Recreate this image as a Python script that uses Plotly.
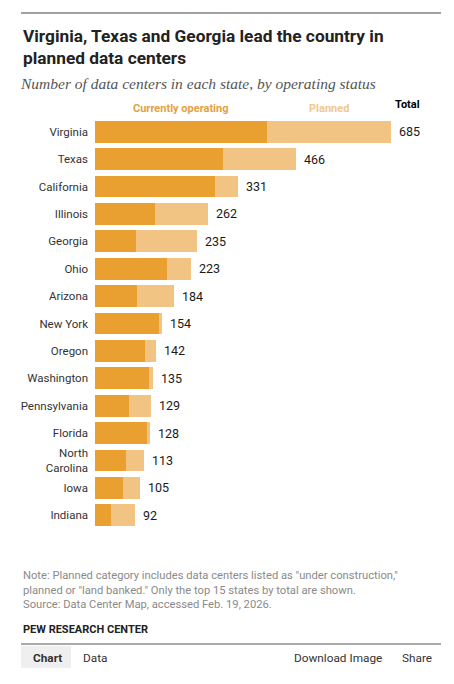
import plotly.graph_objects as go

# data
states = ["Virginia", "Texas", "California", "Illinois", "Georgia", "Ohio", "Arizona",
          "New York", "Oregon", "Washington", "Pennsylvania", "Florida",
          "North<br>Carolina", "Iowa", "Indiana"]
operating = [398, 296, 278, 139, 95, 167, 97, 148, 116, 125, 79, 120, 72, 65, 37]
planned = [287, 170, 53, 123, 140, 56, 87, 6, 26, 10, 50, 8, 41, 40, 55]
totals = [685, 466, 331, 262, 235, 223, 184, 154, 142, 135, 129, 128, 113, 105, 92]

OPER_COLOR = "#EA9F31"
PLAN_COLOR = "#F1C483"
FONT = "Roboto"

# the page puts an 8px body margin around the figure, so work in page pixels
# and shift everything back by that amount
OFF = 8
W, H = 454 - OFF, 684 - OFF
L, R, T, B = 95 - OFF, 441 - OFF, 118 - OFF, 529 - OFF  # plot area


def px(x):
    return (x - OFF - L) / (R - L)


def py(y):
    return (B - (y - OFF)) / (B - T)


fig = go.Figure()
fig.add_trace(go.Bar(y=states, x=operating, orientation="h", name="Currently operating",
                     marker=dict(color=OPER_COLOR, line=dict(width=0)), width=0.8,
                     hoverinfo="x+y"))
fig.add_trace(go.Bar(y=states, x=planned, orientation="h", name="Planned",
                     marker=dict(color=PLAN_COLOR, line=dict(width=0)), width=0.8,
                     hoverinfo="x+y"))

annotations = []
for s, t in zip(states, totals):
    annotations.append(dict(x=t, y=s, xref="x", yref="y", text=str(t), showarrow=False,
                            xanchor="left", xshift=6, font=dict(family=FONT, size=12.5, color="#1a1a1a")))

# column headers
annotations.append(dict(x=operating[0] / 2, y=py(108), xref="x", yref="paper", text="<b>Currently operating</b>",
                        showarrow=False, xanchor="center", yanchor="middle",
                        font=dict(family=FONT, size=11, color="#E3A143")))
annotations.append(dict(x=operating[0] + planned[0] / 2, y=py(108), xref="x", yref="paper", text="<b>Planned</b>",
                        showarrow=False, xanchor="center", yanchor="middle",
                        font=dict(family=FONT, size=11, color="#F0C88E")))
annotations.append(dict(x=px(407), y=py(105), xref="paper", yref="paper", text="<b>Total</b>",
                        showarrow=False, xanchor="center", yanchor="middle",
                        font=dict(family=FONT, size=11, color="#000")))

# title and subtitle
annotations.append(dict(x=px(21), y=py(24), xref="paper", yref="paper", showarrow=False,
                        xanchor="left", yanchor="top", align="left",
                        text="<b>Virginia, Texas and Georgia lead the country in<br>planned data centers</b>",
                        font=dict(family=FONT, size=17.3, color="#222")))
annotations.append(dict(x=px(18), y=py(83), xref="paper", yref="paper", showarrow=False,
                        xanchor="left", yanchor="middle", align="left",
                        text="<i>Number of data centers in each state, by operating status</i>",
                        font=dict(family="Liberation Serif", size=15.5, color="#555")))

# note and source
annotations.append(dict(x=px(21), y=py(567), xref="paper", yref="paper", showarrow=False,
                        xanchor="left", yanchor="top", align="left",
                        text='Note: Planned category includes data centers listed as "under construction,"<br>'
                             'planned or "land banked." Only the top 15 states by total are shown.<br>'
                             'Source: Data Center Map, accessed Feb. 19, 2026.',
                        font=dict(family=FONT, size=11.2, color="#8A8A8A")))
annotations.append(dict(x=px(21), y=py(629), xref="paper", yref="paper", showarrow=False,
                        xanchor="left", yanchor="middle", text="<b>PEW RESEARCH CENTER</b>",
                        font=dict(family=FONT, size=11, color="#222")))

# footer tabs
for label, x0, bold in [("Chart", 31, True), ("Data", 81, False),
                        ("Download Image", 292, False), ("Share", 400, False)]:
    annotations.append(dict(x=px(x0), y=py(658), xref="paper", yref="paper", showarrow=False,
                            xanchor="left", yanchor="middle",
                            text=f"<b>{label}</b>" if bold else label,
                            font=dict(family=FONT, size=11.8, color="#333")))

shapes = [
    dict(type="line", xref="paper", yref="paper", x0=px(21), x1=px(441), y0=py(13), y1=py(13),
         line=dict(color="#444", width=1)),
    dict(type="line", xref="paper", yref="paper", x0=px(21), x1=px(441), y0=py(644), y1=py(644),
         line=dict(color="#555", width=1)),
    dict(type="rect", xref="paper", yref="paper", x0=px(21), x1=px(71), y0=py(646), y1=py(668),
         fillcolor="#EFEFEF", line=dict(width=0), layer="below"),
]

fig.update_layout(
    width=W, height=H,
    margin=dict(l=L, r=W - R, t=T, b=H - B, pad=0),
    barmode="stack", bargap=0.2,
    showlegend=False,
    plot_bgcolor="white", paper_bgcolor="white",
    xaxis=dict(range=[0, 801], visible=False, fixedrange=True),
    yaxis=dict(autorange="reversed", showgrid=False, zeroline=False, showline=False,
               ticks="", ticklabelstandoff=6, fixedrange=True,
               tickfont=dict(family=FONT, size=11.5, color="#333")),
    annotations=annotations,
    shapes=shapes,
)

fig.write_html("out.html", config={"displayModeBar": False})
